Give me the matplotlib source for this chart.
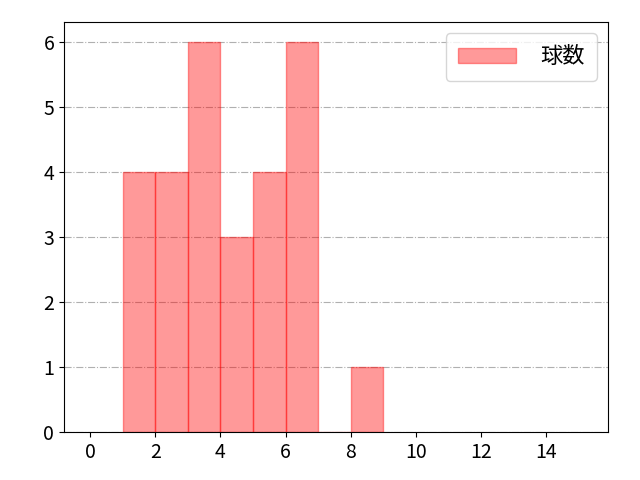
import matplotlib
matplotlib.use("Agg")
import matplotlib.pyplot as plt

plt.rcParams['font.family'] = ['Noto Sans CJK JP', 'DejaVu Sans']

# Histogram data
bin_edges = [1, 2, 3, 4, 5, 6, 7, 8, 9]
counts = [4, 4, 6, 3, 4, 6, 0, 1]
label = "球数"

fig = plt.figure(figsize=(6.4, 4.8), dpi=100)
ax = fig.add_axes([0.1, 0.1, 0.85, 0.854])

ax.hist(bin_edges[:-1], bins=bin_edges, weights=counts,
        color='red', alpha=0.4, edgecolor='red', linewidth=1, label=label)

ax.set_xlim(-0.8, 15.9)
ax.set_ylim(0, 6.3)
ax.set_xticks(range(0, 15, 2))
ax.set_yticks(range(0, 7))
ax.tick_params(labelsize=14)
ax.yaxis.grid(True, linestyle='-.', color='#b0b0b0', linewidth=0.8)
ax.set_axisbelow(True)
ax.legend(loc='upper right', fontsize=16, handlelength=2.6, handletextpad=1.1,
          borderpad=0.55, borderaxespad=0.5)

fig.savefig("out.png", dpi=100)
